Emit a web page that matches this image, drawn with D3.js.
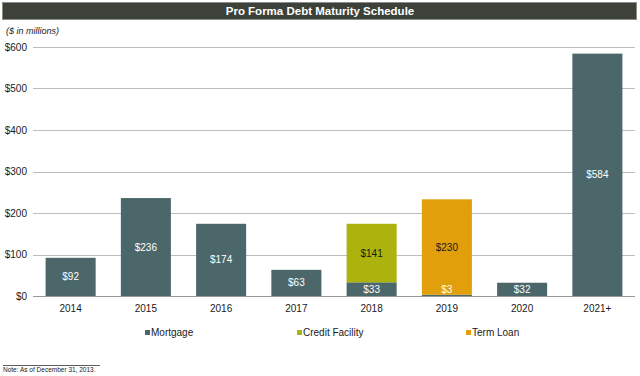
<!DOCTYPE html>
<html>
<head>
<meta charset="utf-8">
<script src="https://cdn.jsdelivr.net/npm/d3@7"></script>
<style>
  body { margin: 0; background: #fff; }
  svg { font-family: "Liberation Sans", Arial, sans-serif; display: block; }
</style>
</head>
<body>
<svg id="chart" width="640" height="376"></svg>
<script>
// Debt maturity by year ($ in millions)
const years = ["2014", "2015", "2016", "2017", "2018", "2019", "2020", "2021+"];
const mortgage = [92, 236, 174, 63, 33, 3, 32, 584];
const creditFacility = [0, 0, 0, 0, 141, 0, 0, 0];
const termLoan = [0, 0, 0, 0, 0, 230, 0, 0];
const seriesNames = ["Mortgage", "Credit Facility", "Term Loan"];
const yTicks = [0, 100, 200, 300, 400, 500, 600];

const colors = { "Mortgage": "#4b6769", "Credit Facility": "#abb30c", "Term Loan": "#e09f0b" };
const labelColors = { "Mortgage": "#ffffff", "Credit Facility": "#1a1a1a", "Term Loan": "#1a1a1a" };

const svg = d3.select("#chart");

// title bar
svg.append("rect")
  .attr("x", 2.5).attr("y", 2.5)
  .attr("width", 634).attr("height", 17)
  .attr("fill", "#3c423a")
  .attr("stroke", "#8a8d88")
  .attr("stroke-width", 1);

svg.append("text")
  .attr("x", 320).attr("y", 15)
  .attr("text-anchor", "middle")
  .attr("fill", "#fff")
  .style("font-weight", "bold")
  .style("font-size", "11.5px")
  .text("Pro Forma Debt Maturity Schedule");

svg.append("text")
  .attr("x", 6).attr("y", 34)
  .style("font-style", "italic")
  .style("font-size", "9px")
  .attr("fill", "#222")
  .text("($ in millions)");

const margin = { top: 47, right: 5, bottom: 80, left: 33 };
const width = 635 - margin.left;
const height = 296 - margin.top;

const g = svg.append("g")
  .attr("transform", `translate(${margin.left},${margin.top})`);

const x = d3.scaleBand()
  .domain(years)
  .range([0, width])
  .paddingInner(0.335)
  .paddingOuter(0.1675);

const y = d3.scaleLinear()
  .domain([0, 600])
  .range([height, 0]);

// gridlines
g.selectAll(".grid")
  .data(yTicks.filter(d => d > 0))
  .enter()
  .append("line")
  .attr("class", "grid")
  .attr("x1", 0).attr("x2", width)
  .attr("y1", d => Math.round(y(d)) + 0.5)
  .attr("y2", d => Math.round(y(d)) + 0.5)
  .attr("stroke", "#bdbdbd")
  .attr("stroke-width", 1);

// y axis labels
const yAxis = g.append("g")
  .call(d3.axisLeft(y).tickValues(yTicks).tickSize(0).tickPadding(6).tickFormat(d => "$" + d));
yAxis.select(".domain").remove();
yAxis.selectAll("text")
  .style("font-size", "10px")
  .style("font-family", "Liberation Sans, Arial, sans-serif")
  .attr("fill", "#1a1a1a");

// stacked bars
const tableData = years.map((yr, i) => ({
  year: yr,
  "Mortgage": mortgage[i],
  "Credit Facility": creditFacility[i],
  "Term Loan": termLoan[i]
}));

const stack = d3.stack().keys(seriesNames)(tableData);

const layers = g.selectAll(".layer")
  .data(stack)
  .enter()
  .append("g")
  .attr("class", "layer")
  .attr("fill", d => colors[d.key]);

layers.selectAll("rect")
  .data(d => d.filter(s => s[1] - s[0] > 0))
  .enter()
  .append("rect")
  .attr("x", d => x(d.data.year))
  .attr("y", d => y(d[1]))
  .attr("width", x.bandwidth())
  .attr("height", d => y(d[0]) - y(d[1]));

// value labels
stack.forEach(layer => {
  g.selectAll(".lbl-" + layer.index)
    .data(layer.filter(s => s[1] - s[0] > 0))
    .enter()
    .append("text")
    .attr("class", "lbl-" + layer.index)
    .attr("x", d => x(d.data.year) + x.bandwidth() / 2)
    .attr("y", d => Math.min((y(d[0]) + y(d[1])) / 2, height - 7))
    .attr("dy", "0.35em")
    .attr("text-anchor", "middle")
    .style("font-size", "10px")
    .attr("fill", labelColors[layer.key])
    .text(d => "$" + (d[1] - d[0]));
});

// baseline
g.append("line")
  .attr("x1", 0).attr("x2", width)
  .attr("y1", height + 0.5).attr("y2", height + 0.5)
  .attr("stroke", "#9a9a9a")
  .attr("stroke-width", 1.2);

// x axis labels
g.selectAll(".xlbl")
  .data(years)
  .enter()
  .append("text")
  .attr("class", "xlbl")
  .attr("x", d => x(d) + x.bandwidth() / 2)
  .attr("y", height + 16)
  .attr("text-anchor", "middle")
  .style("font-size", "10px")
  .attr("fill", "#1a1a1a")
  .text(d => d);

// legend
const legendX = [145, 297, 466];
const legend = svg.selectAll(".legend")
  .data(seriesNames)
  .enter()
  .append("g")
  .attr("class", "legend")
  .attr("transform", (d, i) => `translate(${legendX[i]},330)`);

legend.append("rect")
  .attr("width", 5).attr("height", 5)
  .attr("y", 0)
  .attr("fill", d => colors[d]);

legend.append("text")
  .attr("x", 6).attr("y", 6)
  .style("font-size", "10px")
  .attr("fill", "#1a1a1a")
  .text(d => d);

// footnote
svg.append("line")
  .attr("x1", 3).attr("x2", 100)
  .attr("y1", 365.5).attr("y2", 365.5)
  .attr("stroke", "#333")
  .attr("stroke-width", 0.8);

svg.append("text")
  .attr("x", 3).attr("y", 372)
  .style("font-size", "6.5px")
  .attr("fill", "#222")
  .text("Note: As of December 31, 2013.");
</script>
</body>
</html>
